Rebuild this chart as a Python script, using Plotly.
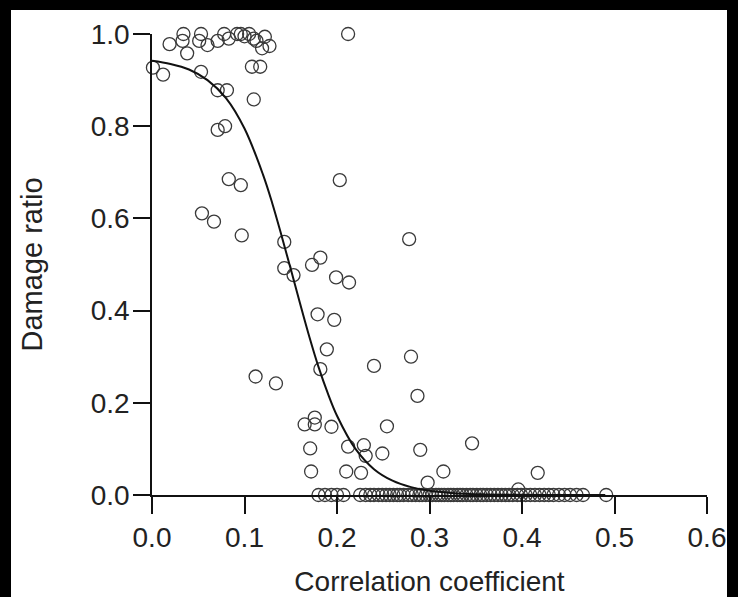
import plotly.graph_objects as go

obs_x = [0.001, 0.012, 0.019, 0.034, 0.033, 0.038, 0.053, 0.051, 0.060, 0.053,
         0.071, 0.078, 0.083, 0.092, 0.096, 0.100, 0.105, 0.110, 0.113, 0.122,
         0.119, 0.127, 0.108, 0.117, 0.071, 0.081, 0.110, 0.071, 0.079,
         0.083, 0.096, 0.054, 0.067, 0.097, 0.143, 0.143, 0.153, 0.173, 0.182,
         0.199, 0.213, 0.203, 0.179, 0.197, 0.189, 0.182, 0.240, 0.112, 0.134,
         0.278, 0.280, 0.287, 0.176, 0.165, 0.176, 0.194, 0.254, 0.171, 0.212,
         0.229, 0.231, 0.249, 0.172, 0.210, 0.226, 0.290, 0.346, 0.315, 0.298,
         0.417, 0.396, 0.212]
obs_y = [0.927, 0.912, 0.978, 1.000, 0.985, 0.958, 1.000, 0.985, 0.976, 0.918,
         0.985, 1.000, 0.990, 1.000, 1.000, 0.995, 1.000, 0.990, 0.985, 0.994,
         0.969, 0.974, 0.929, 0.929, 0.878, 0.878, 0.858, 0.792, 0.800,
         0.685, 0.672, 0.611, 0.593, 0.563, 0.549, 0.492, 0.477, 0.499, 0.515,
         0.472, 0.461, 0.683, 0.392, 0.380, 0.316, 0.273, 0.280, 0.257, 0.242,
         0.555, 0.300, 0.215, 0.168, 0.153, 0.153, 0.148, 0.149, 0.101, 0.105,
         0.108, 0.085, 0.090, 0.051, 0.051, 0.048, 0.098, 0.112, 0.051, 0.027,
         0.048, 0.012, 1.000]

# Observations with zero damage
zero_x = [0.180, 0.187, 0.194, 0.200, 0.207, 0.225, 0.231, 0.236, 0.240, 0.245,
          0.249, 0.253, 0.257, 0.261, 0.265, 0.268, 0.272, 0.277, 0.281, 0.285,
          0.289, 0.292, 0.296, 0.300, 0.303, 0.307, 0.310, 0.313, 0.316, 0.320,
          0.323, 0.326, 0.330, 0.333, 0.336, 0.340, 0.344, 0.347, 0.351, 0.355,
          0.358, 0.362, 0.366, 0.370, 0.374, 0.378, 0.382, 0.386, 0.390, 0.395,
          0.399, 0.404, 0.409, 0.414, 0.419, 0.424, 0.429, 0.434, 0.440, 0.446,
          0.452, 0.459, 0.466, 0.491]
zero_y = [0.0] * len(zero_x)

# Fitted curve
fit_x = [0.00, 0.02, 0.04, 0.06, 0.08, 0.10, 0.12, 0.13, 0.14, 0.15,
         0.16, 0.17, 0.18, 0.19, 0.20, 0.22, 0.24, 0.26, 0.28, 0.30,
         0.33, 0.36, 0.40, 0.45, 0.49]
fit_y = [0.942, 0.935, 0.923, 0.900, 0.861, 0.795, 0.695, 0.633, 0.563, 0.490,
         0.416, 0.344, 0.278, 0.221, 0.172, 0.100, 0.056, 0.031, 0.017, 0.009,
         0.0035, 0.0013, 0.0004, 0.0001, 0.0]

x_ticks = [0.0, 0.1, 0.2, 0.3, 0.4, 0.5, 0.6]
y_ticks = [0.0, 0.2, 0.4, 0.6, 0.8, 1.0]

FONT = "Liberation Sans, Arial, sans-serif"
MARK = dict(symbol="circle-open", size=13, color="#3a3a3a", line=dict(width=1.3, color="#3a3a3a"))

fig = go.Figure()
fig.add_trace(go.Scatter(x=obs_x + zero_x, y=obs_y + zero_y, mode="markers",
                         marker=MARK, cliponaxis=False, showlegend=False))
fig.add_trace(go.Scatter(x=fit_x, y=fit_y, mode="lines", line=dict(color="#111111", width=2, shape="spline"),
                         cliponaxis=False, showlegend=False))

L, R, T, B = 152, 31, 34, 102
W, H = 738, 597
pw, ph = W - L - R, H - T - B

fig.add_shape(type="rect", xref="paper", yref="paper",
              x0=(11 - L) / pw, x1=(727 - L) / pw,
              y0=-(B + 10) / ph, y1=(H - B - 10) / ph,
              fillcolor="white", line=dict(width=0), layer="below")

axis_common = dict(showgrid=False, zeroline=False, showline=True, linecolor="#111111", linewidth=1.6,
                   ticks="outside", ticklen=17, tickwidth=1.6, tickcolor="#111111", automargin=False,
                   tickfont=dict(family=FONT, size=28, color="#222222"), tickformat=".1f")

fig.update_xaxes(range=[0, 0.6], tickvals=x_ticks, **axis_common,
                 title=dict(text="Correlation coefficient", font=dict(family=FONT, size=28, color="#222222"), standoff=22))
fig.update_yaxes(range=[0, 1.0], tickvals=y_ticks, ticklabelstandoff=-2, **axis_common,
                 title=dict(text="Damage ratio", font=dict(family=FONT, size=29, color="#222222"), standoff=40))

fig.update_layout(width=W, height=H, margin=dict(l=L, r=R, t=T, b=B, pad=0),
                  paper_bgcolor="black", plot_bgcolor="white")

fig.write_html("out.html", config={"displayModeBar": False},
               post_script="document.body.style.margin='0';document.body.style.background='black';")
